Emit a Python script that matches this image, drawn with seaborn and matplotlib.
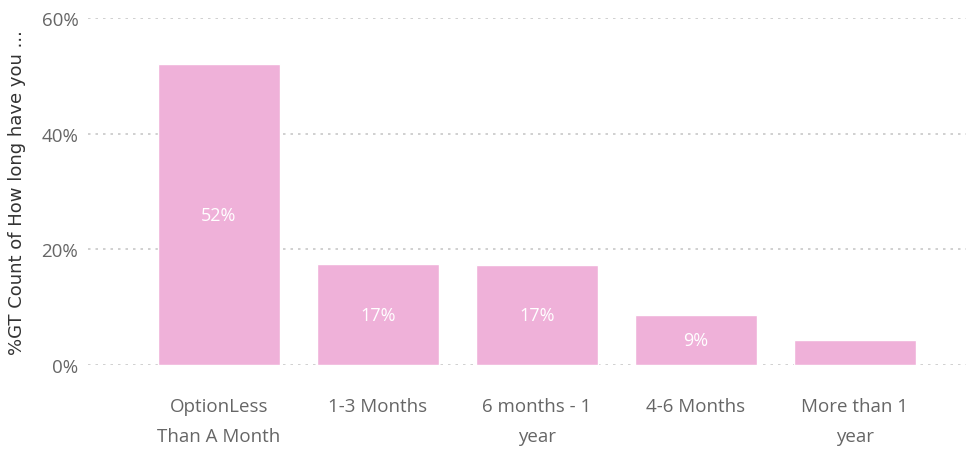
import matplotlib
matplotlib.use("Agg")
import matplotlib.pyplot as plt
import seaborn as sns
import pandas as pd

categories = ["OptionLess\nThan A Month", "1-3 Months", "6 months - 1\nyear", "4-6 Months", "More than 1\nyear"]
shares = [52.0, 17.4, 17.3, 8.6, 4.3]
value_labels = ["52%", "17%", "17%", "9%", ""]
y_ticks = [0, 20, 40, 60]
y_tick_labels = ["0%", "20%", "40%", "60%"]
y_title = "%GT Count of How long have you ..."

df = pd.DataFrame({"category": categories, "share": shares})

sns.set_theme(style="white")
plt.rcParams["font.family"] = ["Open Sans", "DejaVu Sans"]

fig = plt.figure(figsize=(9.66, 4.52), dpi=100)
ax = fig.add_axes([88 / 966, 86 / 452, 1 - 88 / 966, (366 - 19) / 452])

sns.barplot(data=df, x="category", y="share", color="#EFB1D9", saturation=1,
            width=0.77, ax=ax, zorder=3)

ax.set_ylim(0, 60)
ax.set_xlim(-0.824, 4.70)
ax.set_yticks(y_ticks)
ax.set_yticklabels(y_tick_labels, color="#666666", fontsize=13.5)
ax.tick_params(axis="y", length=0, pad=7)
ax.tick_params(axis="x", length=0, pad=23)
for lbl in ax.get_xticklabels():
    lbl.set_color("#666666")
    lbl.set_fontsize(13.5)
    lbl.set_linespacing(1.85)

for y in y_ticks:
    ax.axhline(y, color="#C8C8C8", linestyle=(0, (1.5, 3)), linewidth=1.2, zorder=1)

for sp in ax.spines.values():
    sp.set_visible(False)

ax.set_xlabel("")
ax.set_ylabel(y_title, fontdict={"family": "DejaVu Sans", "size": 13, "color": "#333333"})
ax.yaxis.set_label_coords(-62 / 878, 0.5)

for i, (v, t) in enumerate(zip(shares, value_labels)):
    if t:
        ax.text(i, v / 2, t, ha="center", va="center", color="white", fontsize=13)

fig.savefig("out.png", dpi=100, facecolor="white")
